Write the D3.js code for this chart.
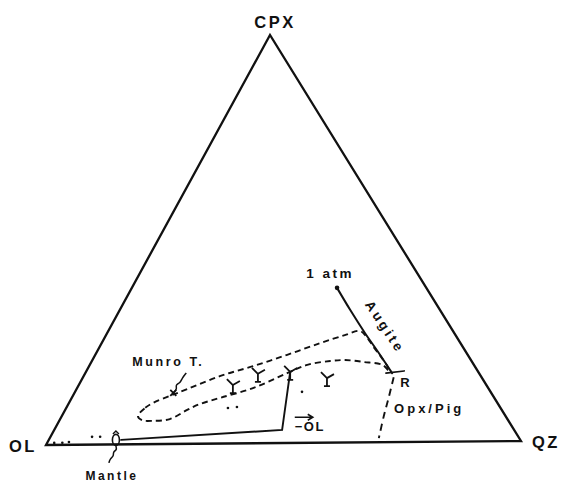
<!DOCTYPE html>
<html><head><meta charset="utf-8">
<script src="https://cdn.jsdelivr.net/npm/d3@7"></script>
<style>body{margin:0;background:#fff}svg{display:block}</style></head>
<body><svg id="c" width="564" height="483"></svg>
<script>
// Compositions as [CPX %, QZ %]; OL = 100 - CPX - QZ
const vertexNames = ["CPX", "OL", "QZ"];
const oneAtmCurve = [[37.9,43.4],[32.5,48.7],[26.8,54.5],[22.1,59.5],[16.9,64.9]];
const rTick = [[16.9,63.6],[17.4,67.2]];
const opxPigBoundary = [[15.9,65.7],[11.3,66.9],[6.4,68.1],[1.0,69.6]];
const mantleTrend = [[1.1,15.3],[3.2,48.2],[17.4,43.2]];
const mantlePoint = [1.1,14.2];
const olDots = [[0.5,1.5],[0.5,3.2],[0.7,4.5],[1.9,8.8],[1.9,10.5]];
const munroField = [
  [6.9,16.1],[8.9,16.7],[10.1,17.8],[11.8,20.6],[13.4,23.4],[16.5,28.8],[18.9,34.7],
  [21.6,40.6],[24.4,46.2],[26.3,50.5],[27.3,53.2],
  [26.0,55.1],[23.3,58.0],[20.6,61.0],[18.4,63.3],
  [17.4,64.0],[18.9,62.0],[19.7,57.5],[20.2,53.4],[20.0,50.4],[19.1,46.0],[17.1,42.7],
  [13.5,37.2],[11.2,31.4],[9.7,27.8],[8.3,25.8],[6.1,23.2],[5.7,19.9],[5.9,17.4]
];
const ySymbols = [[14.3,32.6],[17.0,36.6],[17.4,43.2],[15.8,51.7]];
const scatterDots = [[8.7,34.2],[8.9,36.0],[12.5,48.0]];
const munroPoint = [12.5,20.9];
const olArrowPoint = [6.3,49.4];
const labels = { oneAtm: "1 atm", augite: "Augite", r: "R", opx: "Opx/Pig", munro: "Munro T.", mantle: "Mantle", ol: "−OL" };

const svg = d3.select("#c");
const OL = {x:46, y:445}, CPX = {x:270, y:35}, QZ = {x:521, y:441};
const cScaleX = d3.scaleLinear().domain([0,100]).range([0, CPX.x-OL.x]);
const cScaleY = d3.scaleLinear().domain([0,100]).range([0, CPX.y-OL.y]);
const qScaleX = d3.scaleLinear().domain([0,100]).range([0, QZ.x-OL.x]);
const qScaleY = d3.scaleLinear().domain([0,100]).range([0, QZ.y-OL.y]);
const px = d => OL.x + cScaleX(d[0]) + qScaleX(d[1]);
const py = d => OL.y + cScaleY(d[0]) + qScaleY(d[1]);
const P = d => [px(d), py(d)];

const font = "'Liberation Sans', Arial, sans-serif";
const black = "#111";

// triangle
svg.append("path")
  .attr("d", d3.line()([P([0,0]), P([100,0]), P([0,100])]) + "Z")
  .attr("fill","none").attr("stroke",black).attr("stroke-width",2.3).attr("stroke-linejoin","miter");

// vertex labels
const vtx = {CPX:[P([100,0]), 5, -7, "middle"], OL:[P([0,0]), -23, 7, "middle"], QZ:[P([0,100]), 11, 7, "start"]};
vertexNames.forEach(n => {
  const [p, dx, dy, anc] = vtx[n];
  svg.append("text").attr("x", p[0]+dx).attr("y", p[1]+dy).attr("text-anchor", anc)
    .attr("font-family", font).attr("font-weight","bold").attr("font-size",16.5).attr("letter-spacing",2.5)
    .attr("fill",black).text(n);
});

const solid = (data, curve, w) => svg.append("path")
  .attr("d", d3.line().x(px).y(py).curve(curve)(data))
  .attr("fill","none").attr("stroke",black).attr("stroke-width",w).attr("stroke-linecap","round");

solid(oneAtmCurve, d3.curveCatmullRom, 2);
solid(rTick, d3.curveLinear, 1.7);
solid(mantleTrend, d3.curveLinear, 1.9);

svg.append("path").attr("d", d3.line().x(px).y(py).curve(d3.curveCatmullRom)(opxPigBoundary))
  .attr("fill","none").attr("stroke",black).attr("stroke-width",1.9).attr("stroke-dasharray","7,5");

svg.append("path").attr("d", d3.line().x(px).y(py).curve(d3.curveCatmullRomClosed)(munroField))
  .attr("fill","none").attr("stroke",black).attr("stroke-width",1.9).attr("stroke-dasharray","6,4");

// start dot of 1 atm
svg.append("circle").attr("cx", px(oneAtmCurve[0])).attr("cy", py(oneAtmCurve[0])).attr("r",2.3).attr("fill",black);

// dots
svg.selectAll(".d").data(olDots.concat(scatterDots)).join("circle")
  .attr("cx", px).attr("cy", py).attr("r",1.3).attr("fill",black);

// Y symbols
ySymbols.forEach(d => {
  const [x,y] = P(d);
  svg.append("path").attr("d", `M${x},${y}L${x-6},${y-6}M${x},${y}L${x+7},${y-4}M${x},${y}L${x},${y+8}M${x-3},${y+8}L${x+3},${y+8}`)
    .attr("fill","none").attr("stroke",black).attr("stroke-width",1.8);
});

// Mantle symbol
{
  const [x,y] = P(mantlePoint);
  svg.append("ellipse").attr("cx",x).attr("cy",y).attr("rx",3.5).attr("ry",5.5)
    .attr("fill","none").attr("stroke",black).attr("stroke-width",1.6);
  svg.append("path").attr("d",`M${x-3},${y-6}L${x},${y-9}L${x+3},${y-6}`).attr("fill","none").attr("stroke",black).attr("stroke-width",1.4);
  svg.append("path").attr("d", d3.line().curve(d3.curveBasis)([[x,y+6],[x+1,y+10],[x-3,y+12],[x-2,y+16],[x-6,y+19],[x-7,y+23]]))
    .attr("fill","none").attr("stroke",black).attr("stroke-width",1.5);
  svg.append("text").attr("x",x-4).attr("y",y+40).attr("text-anchor","middle")
    .attr("font-family",font).attr("font-weight","bold").attr("font-size",12).attr("letter-spacing",2.5).attr("fill",black).text(labels.mantle);
}

// Munro T.
{
  const [x,y] = P(munroPoint);
  svg.append("path").attr("d",`M${x-3},${y-3}L${x+3},${y+3}M${x+3},${y-3}L${x-3},${y+3}`).attr("stroke",black).attr("stroke-width",1.8);
  svg.append("path").attr("d", d3.line().curve(d3.curveBasis)([[x,y],[x+4,y-4],[x+2,y-8],[x+7,y-10],[x+9,y-15],[x+13,y-20]]))
    .attr("fill","none").attr("stroke",black).attr("stroke-width",1.5);
  svg.append("text").attr("x",x-41).attr("y",y-27)
    .attr("font-family",font).attr("font-weight","bold").attr("font-size",12.5).attr("letter-spacing",2.6).attr("fill",black).text(labels.munro);
}

// 1 atm label
{
  const [x,y] = P(oneAtmCurve[0]);
  svg.append("text").attr("x",x-7).attr("y",y-10).attr("text-anchor","middle")
    .attr("font-family",font).attr("font-weight","bold").attr("font-size",13.5).attr("letter-spacing",2.5).attr("fill",black).text(labels.oneAtm);
}

// Augite label (rotated along the curve)
{
  const a = P(oneAtmCurve[1]), b = P(oneAtmCurve[3]);
  const ang = Math.atan2(b[1]-a[1], b[0]-a[0]) * 180 / Math.PI;
  const cx = (a[0]+b[0])/2 + 21, cy = (a[1]+b[1])/2 - 4;
  svg.append("text").attr("transform",`translate(${cx},${cy}) rotate(${ang})`).attr("text-anchor","middle").attr("dy","0.35em")
    .attr("font-family",font).attr("font-weight","bold").attr("font-size",13.5).attr("letter-spacing",3).attr("fill",black).text(labels.augite);
}

// R label
{
  const [x,y] = P(oneAtmCurve[oneAtmCurve.length-1]);
  svg.append("text").attr("x",x+8).attr("y",y+14)
    .attr("font-family",font).attr("font-weight","bold").attr("font-size",13).attr("fill",black).text(labels.r);
}

// Opx/Pig label
{
  const [x,y] = P(opxPigBoundary[1]);
  svg.append("text").attr("x",x+5).attr("y",y+17)
    .attr("font-family",font).attr("font-weight","bold").attr("font-size",13).attr("letter-spacing",3).attr("fill",black).text(labels.opx);
}

// -> OL
{
  const [x,y] = P(olArrowPoint);
  svg.append("path").attr("d",`M${x},${y}L${x+18},${y}M${x+13},${y-3}L${x+18},${y}L${x+13},${y+3}`)
    .attr("fill","none").attr("stroke",black).attr("stroke-width",1.6);
  svg.append("text").attr("x",x).attr("y",y+14)
    .attr("font-family",font).attr("font-weight","bold").attr("font-size",13).attr("letter-spacing",1.5).attr("fill",black).text(labels.ol);
}
</script>
</body></html>
